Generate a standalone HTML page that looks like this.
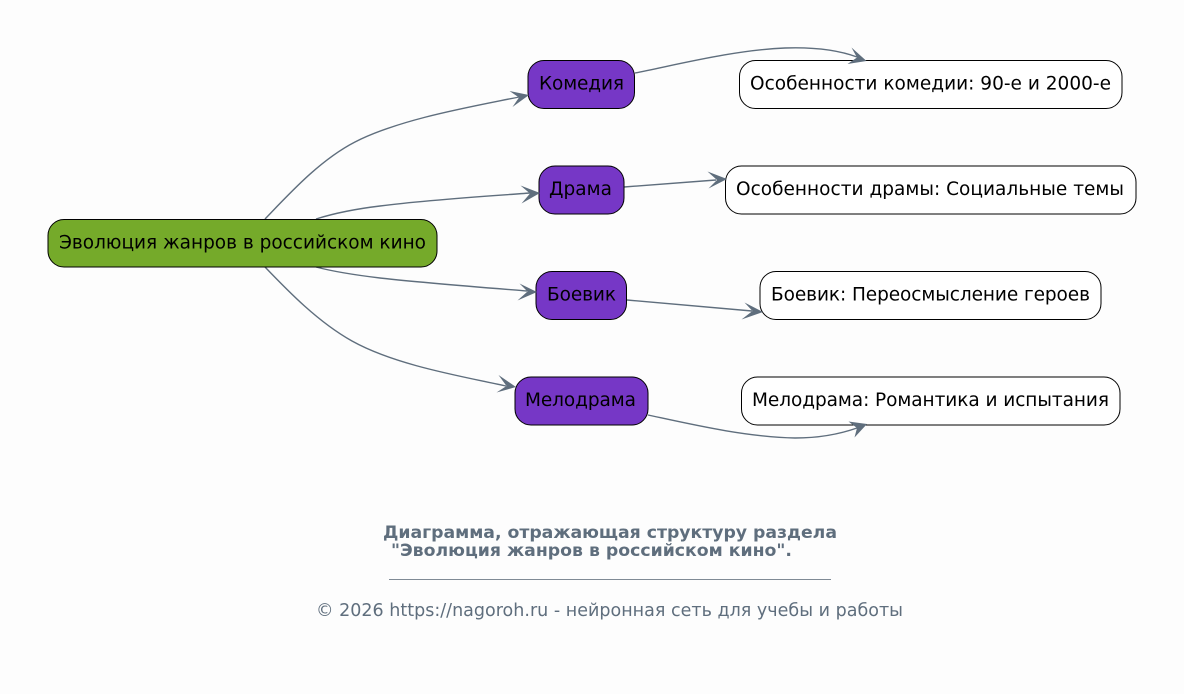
<!DOCTYPE html>
<html><head><meta charset="utf-8"><style>
html,body{margin:0;padding:0;background:#fdfdfd}
svg{display:block}
text{font-family:"DejaVu Sans",sans-serif}
.n{font-size:18.5px;fill:#000}
.e{fill:none;stroke:#5f6e7d;stroke-width:1.4}
.h{fill:#5f6e7d;stroke:none}
.b{stroke:#000;stroke-width:1}
</style></head><body>
<svg width="1184" height="694" viewBox="0 0 1184 694" xmlns="http://www.w3.org/2000/svg">
<rect width="1184" height="694" fill="#fdfdfd"/>

<path class="e" d="M265 219C290 193 320 160 355 142C400 119 470 107 519 97"/>
<path class="e" d="M316 219C335 213 355 209 380 206C425 200 490 196 530 193"/>
<path class="e" d="M316 267C335 272 355 275 380 278C425 283 490 288 527 291"/>
<path class="e" d="M265 267C288 291 318 322 352 341C395 365 460 376 506 386"/>
<path class="e" d="M635 73C680 64 735 50 785 48C815 47 838 50 857 57"/>
<path class="e" d="M624 187L716 180"/>
<path class="e" d="M627 300L752 311"/>
<path class="e" d="M648 415C690 424 745 437 795 438C820 438 840 434 857 428"/>

<rect class="b" x="48" y="219.500" width="389" height="47.500" rx="16" fill="#75aa2a"/>
<text class="n" x="59" y="248.500" textLength="367">Эволюция жанров в российском кино</text>

<rect class="b" x="528" y="60.500" width="106.500" height="48" rx="16" fill="#7637c6"/>
<text class="n" x="539" y="89.500" textLength="85">Комедия</text>
<rect class="b" x="539" y="166" width="85" height="48" rx="16" fill="#7637c6"/>
<text class="n" x="549" y="195" textLength="63">Драма</text>
<rect class="b" x="536" y="271.500" width="90.500" height="48" rx="16" fill="#7637c6"/>
<text class="n" x="547" y="300.500" textLength="69">Боевик</text>
<rect class="b" x="515" y="377" width="133" height="48" rx="16" fill="#7637c6"/>
<text class="n" x="525" y="406" textLength="111">Мелодрама</text>

<rect class="b" x="739.500" y="60.500" width="382.500" height="48" rx="16" fill="#fff"/>
<text class="n" x="750" y="89.500" textLength="361">Особенности комедии: 90-е и 2000-е</text>
<rect class="b" x="725.500" y="166" width="410.500" height="48" rx="16" fill="#fff"/>
<text class="n" x="736" y="195" textLength="388">Особенности драмы: Социальные темы</text>
<rect class="b" x="760" y="271.500" width="341" height="48" rx="16" fill="#fff"/>
<text class="n" x="771" y="300.500" textLength="319">Боевик: Переосмысление героев</text>
<rect class="b" x="741.500" y="377" width="378.500" height="48" rx="16" fill="#fff"/>
<text class="n" x="752" y="406" textLength="357">Мелодрама: Романтика и испытания</text>

<path class="h" d="M529 95L509.500 91L519 97.500L512.500 107Z"/>
<path class="h" d="M540 193L520.500 185.500L530 193.500L521.500 203.500Z"/>
<path class="h" d="M537 292L519.500 283.500L527.500 291.500L517.500 300.500Z"/>
<path class="h" d="M516 387L498.500 375L506.500 386L496.500 392.500Z"/>
<path class="h" d="M866.500 61L851.500 47.500L857 57.500L847.500 64Z"/>
<path class="h" d="M727 179L707.500 171.500L717 180L708.500 188.500Z"/>
<path class="h" d="M763 312L744.500 302.500L752.500 311L741.500 319.500Z"/>
<path class="h" d="M867 424L848.500 421.500L857 428L854.500 437.500Z"/>

<text x="383" y="538" font-size="17.300" font-weight="bold" fill="#5f6e7d" textLength="454">Диаграмма, отражающая структуру раздела</text>
<text x="391" y="556" font-size="17.300" font-weight="bold" fill="#5f6e7d" textLength="401">"Эволюция жанров в российском кино".</text>
<rect x="389" y="579" width="442" height="1" fill="#7f8a95"/>
<text x="316" y="616" font-size="17.500" fill="#5f6e7d" textLength="587">© 2026 https://nagoroh.ru - нейронная сеть для учебы и работы</text>
</svg>
</body></html>
